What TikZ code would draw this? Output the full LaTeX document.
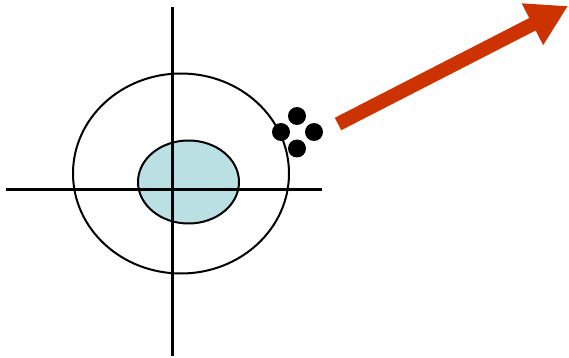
\documentclass[tikz,border=0pt]{standalone}
\usetikzlibrary{arrows.meta}
\definecolor{cellblue}{RGB}{186,224,228}
\definecolor{pushred}{RGB}{204,51,0}
\begin{document}
\begin{tikzpicture}[x=.02cm,y=-.02cm]
	\useasboundingbox (0,0) rectangle (569,358);
	
	\draw[line width=.04cm] (181,173.5) ellipse(108 and 100);
	\draw[line width=.04cm,fill=cellblue] (188.5,182) ellipse(50.5 and 41.5);
	
	\draw[line width=.06cm] (172.5,7) -- (172.5,356);
	\draw[line width=.06cm] (6,190) -- (322,190);
	
	\fill (297,116) circle(9);
	\fill (281,132) circle(9);
	\fill (314,132) circle(9);
	\fill (297,148.5) circle(9);
	
	\coordinate (tail) at (338,124);
	\coordinate (tip) at (568,6);
	\draw[-{Triangle[length=.8cm,width=.88cm]}, pushred, line width=.28cm] (tail) to (tip);
	\end{tikzpicture}
\end{document}
